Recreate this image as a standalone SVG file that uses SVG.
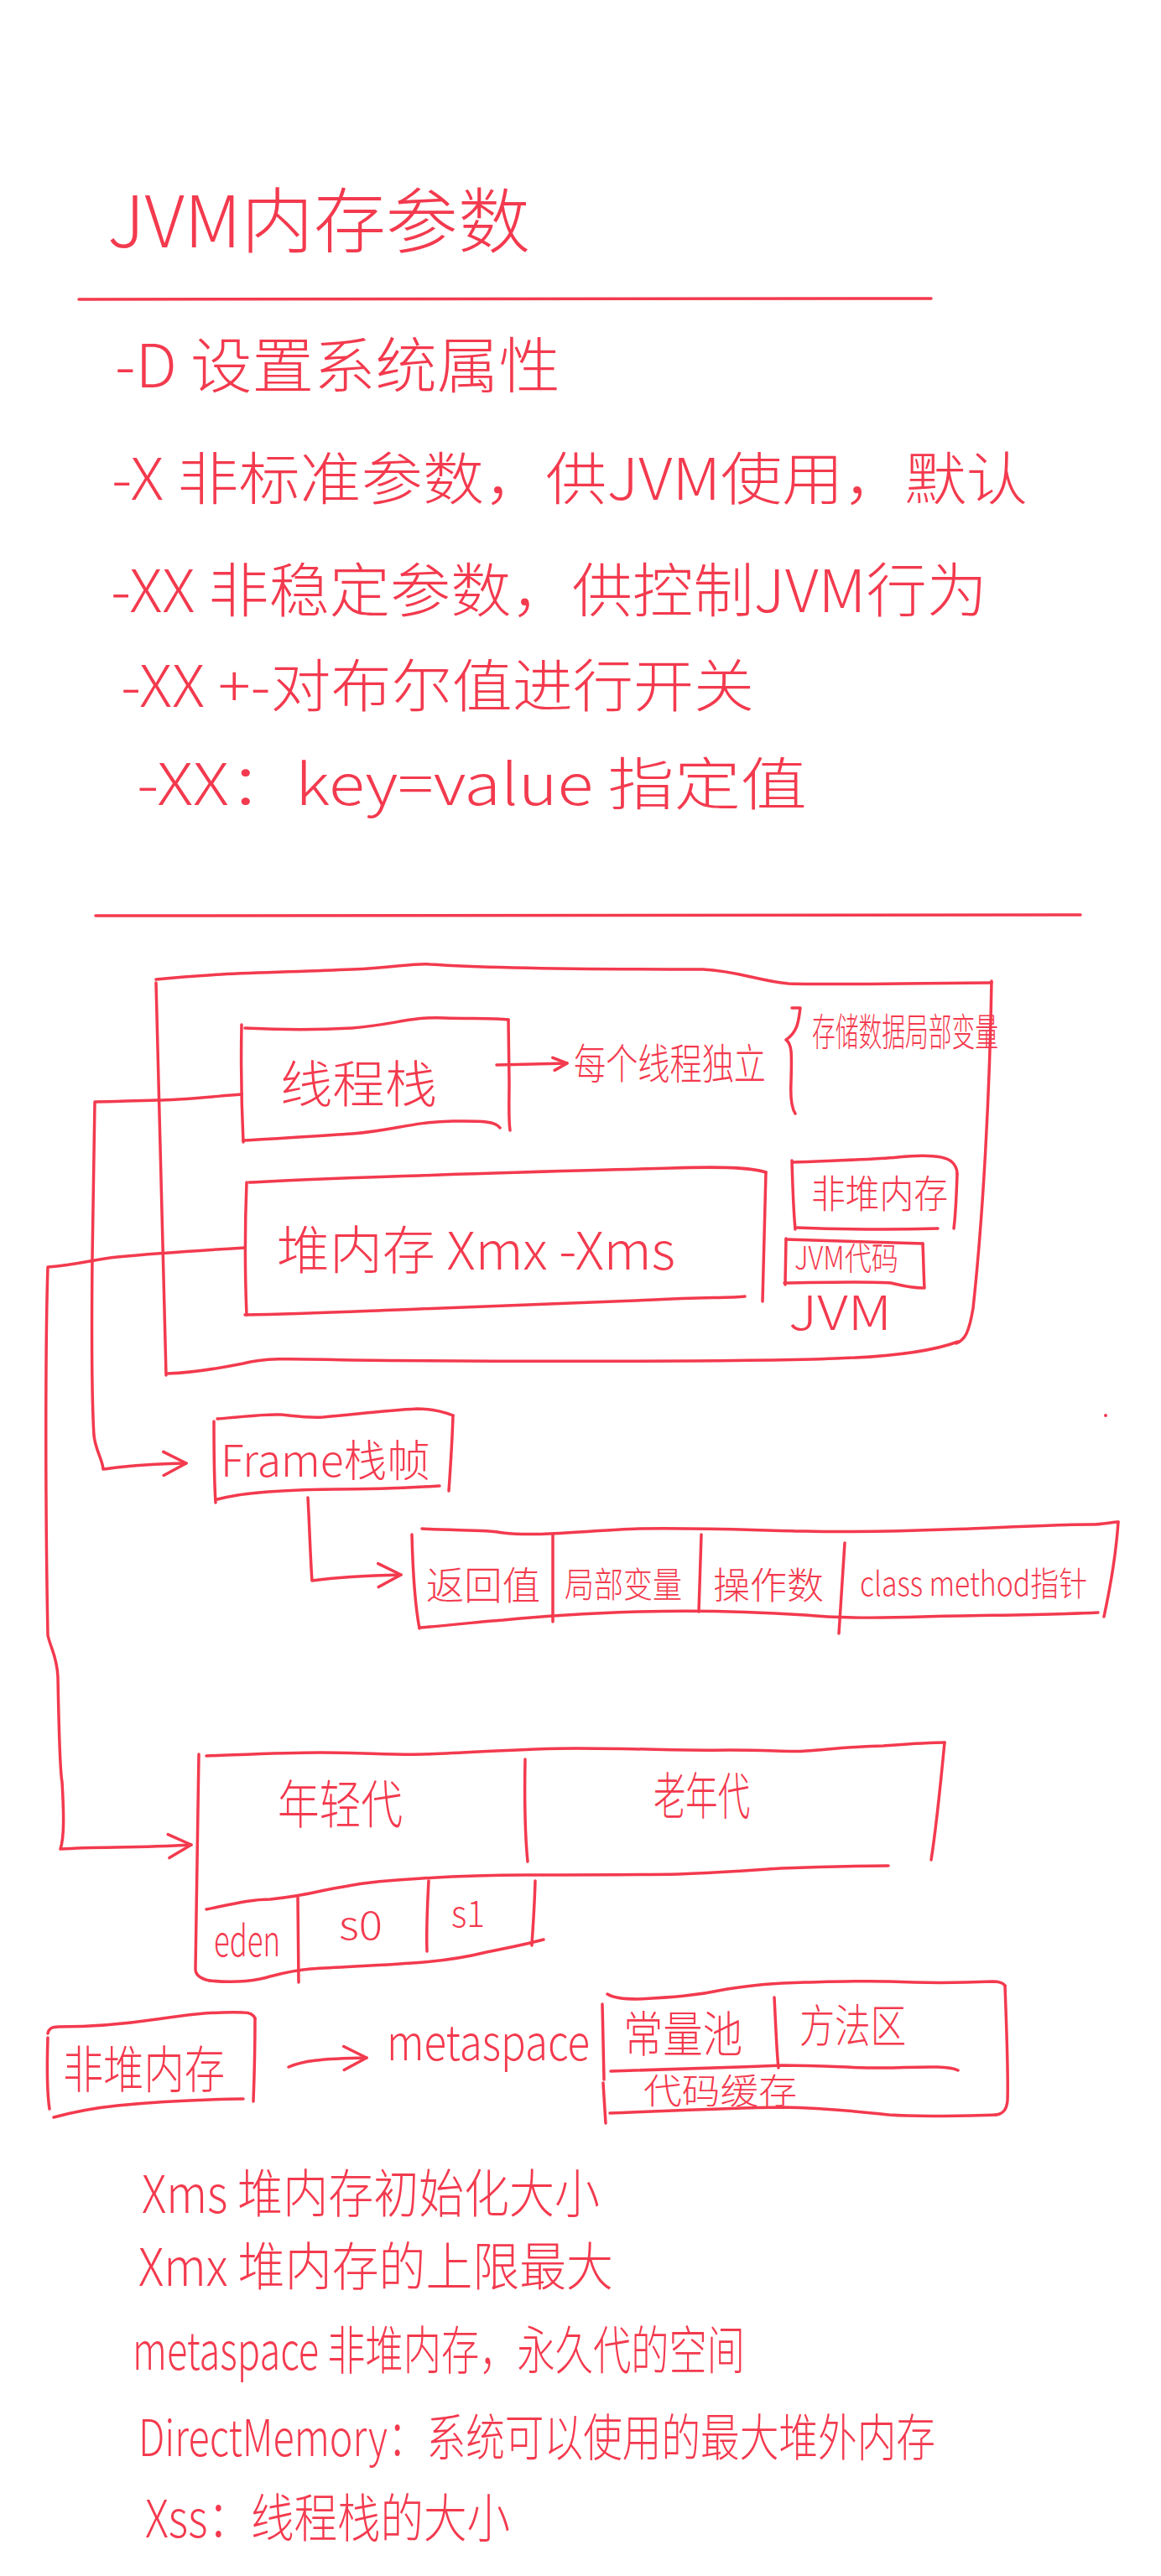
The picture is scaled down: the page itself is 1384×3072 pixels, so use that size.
<svg xmlns="http://www.w3.org/2000/svg" width="1384" height="3072" viewBox="0 0 1384 3072">
<defs>
<style>
.s{fill:none;stroke:#f33a4e;stroke-width:3.5;stroke-linecap:round;stroke-linejoin:round}
.t{fill:#f33a4e;font-family:"Noto Sans CJK SC","Noto Sans",sans-serif;font-weight:300}
</style>
<marker id="ah" viewBox="0 0 32 34" refX="30" refY="17" markerWidth="32" markerHeight="34" markerUnits="userSpaceOnUse" orient="auto">
<path d="M3,3 L30,17 L3,31" fill="none" stroke="#f33a4e" stroke-width="3.5" stroke-linecap="round" stroke-linejoin="round"/>
</marker>
<marker id="ahs" viewBox="0 0 22 20" refX="20" refY="10" markerWidth="22" markerHeight="20" markerUnits="userSpaceOnUse" orient="auto">
<path d="M3,3 L20,10 L5,18" fill="none" stroke="#f33a4e" stroke-width="3.5" stroke-linecap="round" stroke-linejoin="round"/>
</marker>
</defs>
<rect width="1384" height="3072" fill="#ffffff"/>

<g id="title">
<text class="t" x="128" y="295" font-size="85" textLength="504" lengthAdjust="spacingAndGlyphs">JVM内存参数</text>
<path class="s" d="M94,357 L1110,356"/>
</g>

<g id="params">
<text class="t" x="137" y="462" font-size="72" textLength="531" lengthAdjust="spacingAndGlyphs">-D 设置系统属性</text>
<text class="t" x="133" y="596" font-size="68" textLength="1092" lengthAdjust="spacingAndGlyphs">-X 非标准参数，供JVM使用，默认</text>
<text class="t" x="132" y="730" font-size="70" textLength="1045" lengthAdjust="spacingAndGlyphs">-XX 非稳定参数，供控制JVM行为</text>
<text class="t" x="144" y="843" font-size="68" textLength="755" lengthAdjust="spacingAndGlyphs">-XX +-对布尔值进行开关</text>
<text class="t" x="163" y="960" font-size="68" textLength="799" lengthAdjust="spacingAndGlyphs">-XX：key=value 指定值</text>
<path class="s" d="M114,1092 L1288,1091"/>
</g>

<g id="jvm-memory">
<path class="s" d="M186,1168 C260,1160 330,1160 420,1156 C470,1154 495,1148 513,1150 C600,1156 760,1156 838,1156 C880,1158 905,1170 940,1173 C1000,1175 1120,1172 1182,1172"/>
<path class="s" d="M1182,1170 C1180,1300 1172,1450 1160,1560 C1155,1590 1150,1598 1140,1602"/>
<path class="s" d="M1142,1600 C1110,1612 1060,1618 996,1620 C900,1624 600,1624 420,1622 C360,1621 320,1618 290,1626 C260,1632 230,1637 200,1638"/>
<path class="s" d="M186,1172 C188,1300 192,1450 198,1640"/>
</g>

<g id="thread-stack">
<path class="s" d="M292,1226 C330,1228 370,1229 420,1226 C470,1222 490,1212 530,1214 C560,1215 590,1214 606,1216"/>
<path class="s" d="M606,1216 L607,1290 C607,1315 606,1335 608,1348"/>
<path class="s" d="M290,1360 C330,1358 370,1355 420,1352 C470,1348 490,1338 540,1337 C570,1337 590,1336 596,1345"/>
<path class="s" d="M288,1222 C287,1270 288,1320 290,1362"/>
<text class="t" x="334" y="1315" font-size="60" textLength="187" lengthAdjust="spacingAndGlyphs">线程栈</text>
</g>

<g id="thread-note">
<text class="t" x="684" y="1287" font-size="50" textLength="229" lengthAdjust="spacingAndGlyphs">每个线程独立</text>
</g>

<g id="stack-note">
<path class="s" d="M944,1202 L954,1202 C952,1215 952,1230 937,1240 C944,1245 944,1255 943,1290 C942,1310 944,1322 948,1328"/>
<text class="t" x="968" y="1247" font-size="46" textLength="222" lengthAdjust="spacingAndGlyphs">存储数据局部变量</text>
</g>

<g id="heap">
<path class="s" d="M297,1410 C360,1407 420,1404 500,1402 C600,1398 700,1396 800,1393 C860,1391 895,1392 913,1398"/>
<path class="s" d="M913,1398 C912,1450 910,1500 909,1552"/>
<path class="s" d="M292,1568 C360,1567 420,1564 500,1561 C600,1557 700,1553 780,1550 C840,1547 870,1548 888,1546"/>
<path class="s" d="M294,1410 C292,1460 292,1520 294,1568"/>
<text class="t" x="330" y="1514" font-size="62" textLength="475" lengthAdjust="spacingAndGlyphs">堆内存  Xmx  -Xms</text>
</g>

<g id="non-heap">
<path class="s" d="M945,1386 C990,1384 1040,1383 1070,1380 C1100,1377 1125,1378 1134,1385 C1140,1390 1141,1395 1141,1400"/>
<path class="s" d="M1141,1400 C1140,1430 1139,1450 1137,1465"/>
<path class="s" d="M950,1464 C1000,1466 1060,1467 1118,1465"/>
<path class="s" d="M944,1384 C945,1420 946,1445 948,1466"/>
<text class="t" x="967" y="1440" font-size="46" textLength="163" lengthAdjust="spacingAndGlyphs">非堆内存</text>
</g>

<g id="jvm-code">
<path class="s" d="M937,1478 C1000,1480 1060,1482 1100,1483"/>
<path class="s" d="M1100,1483 C1101,1505 1101,1520 1102,1536"/>
<path class="s" d="M935,1530 C990,1529 1040,1528 1062,1530 C1075,1533 1085,1536 1100,1536"/>
<path class="s" d="M937,1477 L936,1532"/>
<text class="t" x="947" y="1514" font-size="38" textLength="124" lengthAdjust="spacingAndGlyphs">JVM代码</text>
</g>

<g id="jvm-label">
<text class="t" x="940" y="1586" font-size="56" textLength="123" lengthAdjust="spacingAndGlyphs">JVM</text>
</g>

<g id="frame">
<path class="s" d="M259,1692 C290,1690 310,1686 335,1687 C355,1689 365,1691 385,1690 C420,1687 460,1682 497,1680 C515,1680 530,1684 540,1688"/>
<path class="s" d="M540,1688 C539,1720 537,1750 535,1778"/>
<path class="s" d="M259,1788 C275,1784 290,1781 320,1779 C350,1777 365,1776 400,1776 C450,1776 490,1774 524,1772"/>
<path class="s" d="M255,1695 C255,1730 255,1760 257,1792"/>
<text class="t" x="263" y="1761" font-size="52" textLength="250" lengthAdjust="spacingAndGlyphs">Frame栈帧</text>
</g>

<g id="frame-parts">
<path class="s" d="M503,1823 C540,1826 575,1823 600,1828 C640,1833 700,1825 762,1823 C850,1822 900,1825 960,1826 C1040,1828 1100,1825 1157,1823 C1220,1820 1270,1818 1300,1818 C1315,1818 1325,1815 1333,1815"/>
<path class="s" d="M1333,1815 C1330,1860 1322,1900 1316,1928"/>
<path class="s" d="M500,1941 C540,1938 570,1934 600,1932 C640,1928 700,1924 760,1922 C830,1920 900,1922 960,1926 C1000,1930 1040,1930 1100,1928 C1180,1926 1250,1926 1309,1923"/>
<path class="s" d="M491,1830 C492,1870 494,1910 500,1942"/>
<path class="s" d="M659,1830 L659,1934 M836,1830 L833,1922 M1007,1840 L1000,1948"/>
<text class="t" x="508" y="1907" font-size="46" textLength="136" lengthAdjust="spacingAndGlyphs">返回值</text>
<text class="t" x="673" y="1905" font-size="42" textLength="140" lengthAdjust="spacingAndGlyphs">局部变量</text>
<text class="t" x="850" y="1907" font-size="44" textLength="132" lengthAdjust="spacingAndGlyphs">操作数</text>
<text class="t" x="1025" y="1903" font-size="40" textLength="271" lengthAdjust="spacingAndGlyphs">class method指针</text>
</g>

<g id="heap-generations">
<path class="s" d="M246,2094 C300,2092 340,2090 383,2090 C430,2090 470,2093 505,2092 C560,2090 630,2085 687,2085 C760,2085 820,2088 870,2087 C920,2087 945,2090 961,2088 C1000,2085 1030,2082 1053,2082 C1080,2080 1105,2078 1126,2078"/>
<path class="s" d="M1126,2078 C1122,2120 1116,2180 1110,2218"/>
<path class="s" d="M626,2098 C625,2150 626,2190 629,2220"/>
<path class="s" d="M246,2277 C280,2270 300,2265 322,2265 C350,2262 370,2258 383,2255 C420,2248 440,2244 474,2242 C540,2237 580,2236 626,2236 C700,2236 760,2236 809,2235 C860,2233 900,2230 931,2228 C980,2226 1020,2225 1059,2225"/>
<path class="s" d="M237,2092 C236,2200 234,2300 233,2348 C233,2356 240,2360 250,2362"/>
<path class="s" d="M250,2362 C270,2364 290,2364 310,2360 C330,2355 345,2350 370,2348 C420,2345 470,2343 505,2340 C540,2337 560,2333 580,2328 C610,2322 630,2318 648,2313"/>
<path class="s" d="M355,2263 L356,2364 M511,2243 C509,2280 508,2300 509,2327 M638,2243 C637,2280 635,2300 634,2320"/>
<text class="t" x="331" y="2175" font-size="62" textLength="149" lengthAdjust="spacingAndGlyphs">年轻代</text>
<text class="t" x="779" y="2164" font-size="60" textLength="115" lengthAdjust="spacingAndGlyphs">老年代</text>
<text class="t" x="255" y="2333" font-size="50" textLength="79" lengthAdjust="spacingAndGlyphs">eden</text>
<text class="t" x="404" y="2313" font-size="46" textLength="52" lengthAdjust="spacingAndGlyphs">s0</text>
<text class="t" x="538" y="2298" font-size="44" textLength="40" lengthAdjust="spacingAndGlyphs">s1</text>
</g>

<g id="non-heap-2">
<path class="s" d="M57,2425 C58,2419 62,2417 70,2417 C100,2417 140,2415 187,2408 C220,2403 250,2399 290,2400 C298,2400 302,2402 304,2407"/>
<path class="s" d="M304,2407 C304,2440 303,2480 302,2506"/>
<path class="s" d="M64,2525 C90,2518 110,2514 140,2511 C180,2507 220,2504 290,2503"/>
<path class="s" d="M57,2430 C56,2460 56,2495 59,2515"/>
<text class="t" x="75" y="2490" font-size="60" textLength="193" lengthAdjust="spacingAndGlyphs">非堆内存</text>
</g>

<g id="metaspace-label">
<text class="t" x="461" y="2457" font-size="58" textLength="242" lengthAdjust="spacingAndGlyphs">metaspace</text>
</g>

<g id="metaspace">
<path class="s" d="M724,2378 C730,2382 740,2384 760,2384 C800,2382 830,2380 867,2372 C900,2367 920,2365 960,2364 C1000,2363 1030,2362 1060,2363 C1100,2365 1140,2365 1183,2363 C1190,2363 1196,2365 1198,2368"/>
<path class="s" d="M1198,2368 C1200,2420 1202,2480 1201,2505 C1200,2517 1195,2521 1187,2522"/>
<path class="s" d="M727,2520 C780,2518 860,2514 933,2513 C990,2514 1020,2518 1060,2522 C1100,2525 1150,2523 1187,2522"/>
<path class="s" d="M718,2390 L720,2480 M719,2484 L722,2532"/>
<path class="s" d="M923,2382 C925,2420 926,2450 928,2466"/>
<path class="s" d="M728,2470 C780,2468 860,2466 933,2463 C990,2463 1020,2467 1060,2466 C1100,2465 1130,2463 1142,2469"/>
<text class="t" x="743" y="2447" font-size="58" textLength="142" lengthAdjust="spacingAndGlyphs">常量池</text>
<text class="t" x="953" y="2436" font-size="54" textLength="127" lengthAdjust="spacingAndGlyphs">方法区</text>
<text class="t" x="767" y="2509" font-size="42" textLength="183" lengthAdjust="spacingAndGlyphs">代码缓存</text>
</g>

<g id="notes">
<text class="t" x="169" y="2639" font-size="62" textLength="546" lengthAdjust="spacingAndGlyphs">Xms 堆内存初始化大小</text>
<text class="t" x="165" y="2726" font-size="62" textLength="566" lengthAdjust="spacingAndGlyphs">Xmx 堆内存的上限最大</text>
<text class="t" x="158" y="2826" font-size="62" textLength="730" lengthAdjust="spacingAndGlyphs">metaspace 非堆内存，永久代的空间</text>
<text class="t" x="165" y="2929" font-size="60" textLength="950" lengthAdjust="spacingAndGlyphs">DirectMemory：系统可以使用的最大堆外内存</text>
<text class="t" x="173" y="3026" font-size="62" textLength="435" lengthAdjust="spacingAndGlyphs">Xss：线程栈的大小</text>
</g>

<g id="connectors">
<path class="s" d="M592,1270 L676,1268" marker-end="url(#ahs)"/>
<path class="s" d="M288,1305 C250,1308 210,1312 188,1312 C150,1313 130,1314 113,1314 L110,1500 C109,1600 110,1680 112,1712 C114,1730 122,1740 123,1752 C140,1750 160,1746 222,1745" marker-end="url(#ah)"/>
<path class="s" d="M292,1488 C240,1491 180,1495 140,1499 C110,1502 95,1508 57,1511 C54,1600 54,1800 57,1950 C60,1965 68,1975 69,2000 C70,2050 71,2110 74,2125 C76,2160 77,2190 72,2205 C120,2202 160,2204 228,2200" marker-end="url(#ah)"/>
<path class="s" d="M367,1786 C369,1820 370,1860 372,1885 C400,1881 430,1879 478,1878" marker-end="url(#ah)"/>
<path class="s" d="M344,2465 C360,2458 380,2455 437,2454" marker-end="url(#ah)"/>
</g>

<circle cx="1318" cy="1688" r="2" fill="#f33a4e"/>
</svg>
